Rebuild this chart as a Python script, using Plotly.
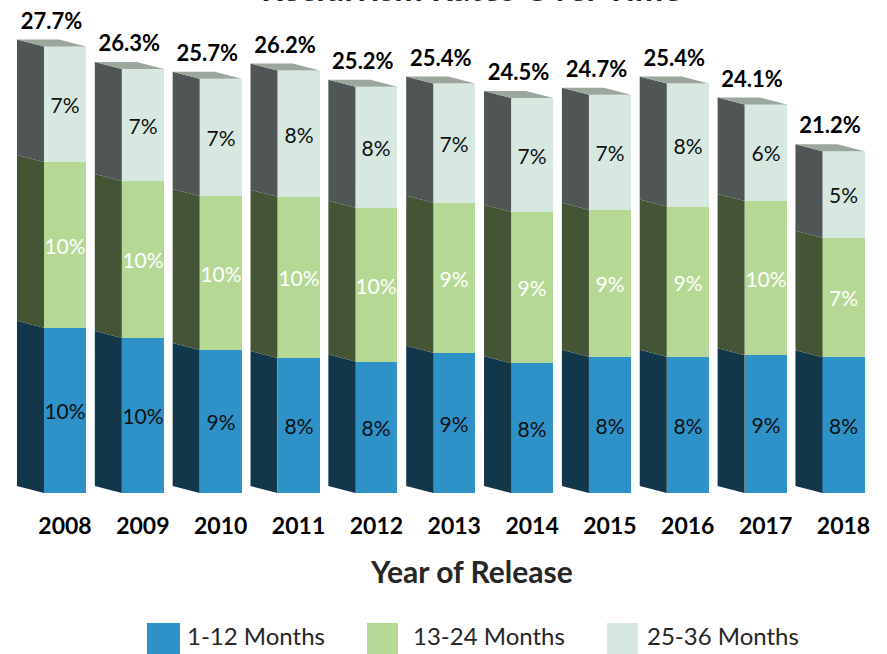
import plotly.graph_objects as go

# Recidivism rates by year of release (percent)
years = ["2008", "2009", "2010", "2011", "2012", "2013", "2014", "2015", "2016", "2017", "2018"]
totals = [27.7, 26.3, 25.7, 26.2, 25.2, 25.4, 24.5, 24.7, 25.4, 24.1, 21.2]
m1_12 = [10.25, 9.62, 8.87, 8.37, 8.15, 8.70, 8.05, 8.45, 8.45, 8.54, 8.42]
m13_24 = [10.28, 9.74, 9.55, 10.00, 9.55, 9.31, 9.40, 9.12, 9.32, 9.57, 7.42]
m25_36 = [7.17, 6.94, 7.28, 7.83, 7.50, 7.39, 7.05, 7.13, 7.63, 5.99, 5.36]
lbl_1_12 = ["10%", "10%", "9%", "8%", "8%", "9%", "8%", "8%", "8%", "9%", "8%"]
lbl_13_24 = ["10%", "10%", "10%", "10%", "10%", "9%", "9%", "9%", "9%", "10%", "7%"]
lbl_25_36 = ["7%", "7%", "7%", "8%", "8%", "7%", "7%", "7%", "8%", "6%", "5%"]
series_names = ["1-12 Months", "13-24 Months", "25-36 Months"]

front_cols = ["#2E92C9", "#B5D895", "#D6E8E0"]
side_cols = ["#12364A", "#435535", "#4F5655"]
top_col = "#9BA69C"
label_cols = ["#111111", "#FFFFFF", "#111111"]
FONT = "Lato"

x = list(range(len(years)))
wf = 0.54      # front face width (x units)
dep = 0.347    # depth of the side face (x units)
dy = 0.434     # vertical lift of the back edge (percent units)

fig = go.Figure()

seg_vals = [m1_12, m13_24, m25_36]
seg_lbls = [lbl_1_12, lbl_13_24, lbl_25_36]
bases = [[0.0] * len(x)]
for s in seg_vals[:-1]:
    bases.append([b + v for b, v in zip(bases[-1], s)])

for k in range(3):
    fig.add_trace(go.Bar(
        x=x, y=seg_vals[k], width=wf, name=series_names[k],
        marker=dict(color=front_cols[k], line=dict(width=0)),
        text=seg_lbls[k], textposition="inside", insidetextanchor="middle",
        constraintext="none", textangle=0,
        textfont=dict(family=FONT, size=21, color=label_cols[k]),
        showlegend=False, hoverinfo="skip"))

# left side faces
for k in range(3):
    px, py = [], []
    for i in x:
        xl = i - wf / 2
        b0 = bases[k][i]
        b1 = b0 + seg_vals[k][i]
        px += [xl - dep, xl, xl, xl - dep, xl - dep, None]
        py += [b0 + dy, b0, b1, b1 + dy, b0 + dy, None]
    fig.add_trace(go.Scatter(x=px, y=py, mode="lines", fill="toself",
                             fillcolor=side_cols[k], line=dict(width=0),
                             showlegend=False, hoverinfo="skip"))

# top faces
px, py = [], []
for i in x:
    xl = i - wf / 2
    t = bases[2][i] + m25_36[i]
    px += [xl - dep, xl - dep + wf, xl + wf, xl, xl - dep, None]
    py += [t + dy, t + dy, t, t, t + dy, None]
fig.add_trace(go.Scatter(x=px, y=py, mode="lines", fill="toself",
                         fillcolor=top_col, line=dict(width=0),
                         showlegend=False, hoverinfo="skip"))

# totals above bars
fig.add_trace(go.Scatter(
    x=[i - dep / 2 for i in x], y=[t + 1.45 for t in totals], mode="text",
    text=[f"{t:.1f}%" for t in totals],
    textfont=dict(family=FONT, size=22, color="#000000", weight="bold"),
    cliponaxis=False, showlegend=False, hoverinfo="skip"))

fig.update_xaxes(range=[-0.835, 10.559], tickvals=x, ticktext=years,
                 tickfont=dict(family=FONT, size=23, color="#000000", weight="bold"),
                 ticks="outside", ticklen=12, tickcolor="rgba(0,0,0,0)",
                 showgrid=False, zeroline=False, showline=False)
fig.update_yaxes(range=[0, 30.58], visible=False)

# legend drawn as boxes + labels
legend_x = [(0.1657, 0.2029, 0.2086), (0.4138, 0.4487, 0.4634), (0.6843, 0.7193, 0.7272)]
shapes, annos = [], []
for k, (x0, x1, xt) in enumerate(legend_x):
    shapes.append(dict(type="rect", xref="paper", yref="paper", x0=x0, x1=x1,
                       y0=-0.2637, y1=-0.33, fillcolor=front_cols[k], line=dict(width=0)))
    annos.append(dict(text=series_names[k], xref="paper", yref="paper", x=xt, y=-0.290,
                      xanchor="left", yanchor="middle", showarrow=False,
                      font=dict(family=FONT, size=24, color="#262626")))

annos.append(dict(text="<b>Year of Release</b>", xref="paper", yref="paper", x=0.532, y=-0.158,
                  xanchor="center", yanchor="middle", showarrow=False,
                  font=dict(family=FONT, size=30, color="#262626")))
annos.append(dict(text="<b>Recidivism Rates Over Time</b>", xref="paper", yref="paper", x=0.531, y=0.980,
                  xanchor="center", yanchor="bottom", showarrow=False,
                  font=dict(family=FONT, size=34, color="#262626")))

fig.update_layout(
    width=887, height=654, barmode="stack", bargap=0,
    margin=dict(l=0, r=0, t=0, b=161),
    plot_bgcolor="white", paper_bgcolor="white",
    shapes=shapes, annotations=annos, showlegend=False,
)

fig.write_html("out.html", config={"displayModeBar": False},
               post_script="document.body.style.margin='0px';")
